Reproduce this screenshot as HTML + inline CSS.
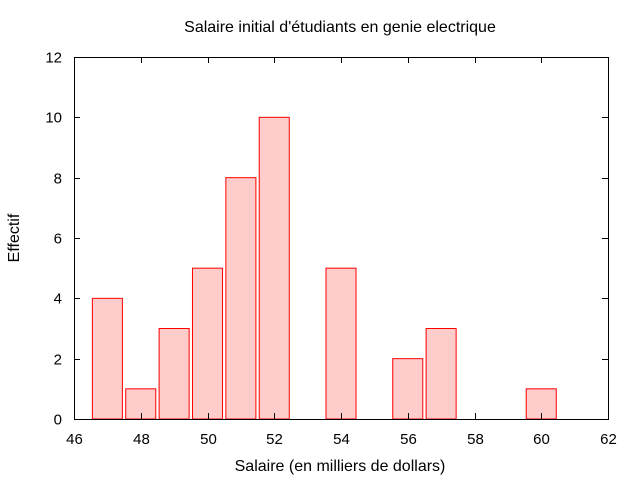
<!DOCTYPE html>
<html><head><meta charset="utf-8"><style>
body{margin:0;background:#fff}
svg{display:block}
text{font-family:"Liberation Sans",sans-serif;font-size:16px;fill:#000}
text.tk{font-size:15px}
</style></head><body>
<svg id="c" width="640" height="480"></svg>
<script>
const categories=[47,48,49,50,51,52,54,56,57,60];
const counts=[4,1,3,5,8,10,5,2,3,1];
const xTicks=[46,48,50,52,54,56,58,60,62];
const yTicks=[0,2,4,6,8,10,12];
const NS="http://www.w3.org/2000/svg";
const svg=document.getElementById('c');
const L=74,R=608,T=57,B=419;
const xs=v=>L+(v-46)/(62-46)*(R-L);
const ys=v=>B-v/12*(B-T);
function mk(t,a){const e=document.createElementNS(NS,t);for(const k in a)e.setAttribute(k,a[k]);svg.appendChild(e);return e;}
categories.forEach((c,i)=>{
 const x0=xs(c-0.45),x1=xs(c+0.45);
 const r=mk('rect',{x:x0,y:ys(counts[i]),width:x1-x0,height:B-ys(counts[i]),fill:'#ffcccc',stroke:'#ff0000','stroke-width':1});
 
 
});
xTicks.forEach(v=>{
 const x=Math.round(xs(v))+0.5;
 mk('line',{x1:x,y1:B,x2:x,y2:B-6,stroke:'#000'});
 mk('line',{x1:x,y1:T,x2:x,y2:T+6,stroke:'#000'});
 const t=mk('text',{x:x,y:B+25,'text-anchor':'middle','class':'tk'});t.textContent=v;
 
 
});
yTicks.forEach(v=>{
 const y=Math.round(ys(v))+0.5;
 mk('line',{x1:L,y1:y,x2:L+6,y2:y,stroke:'#000'});
 mk('line',{x1:R,y1:y,x2:R-6,y2:y,stroke:'#000'});
 const t=mk('text',{x:L-12,y:y+5,'text-anchor':'end','class':'tk'});t.textContent=v;
 
 
});
const bd=mk('rect',{x:L+0.5,y:T+0.5,width:R-L,height:B-T,fill:'none',stroke:'#000'});


let t=mk('text',{x:340,y:32,'text-anchor':'middle'});t.textContent="Salaire initial d'étudiants en genie electrique";


t=mk('text',{x:340,y:471,'text-anchor':'middle'});t.textContent="Salaire (en milliers de dollars)";


t=mk('text',{x:19,y:238,'text-anchor':'middle',transform:'rotate(-90 19 238)'});t.textContent="Effectif";


</script>
</body></html>
